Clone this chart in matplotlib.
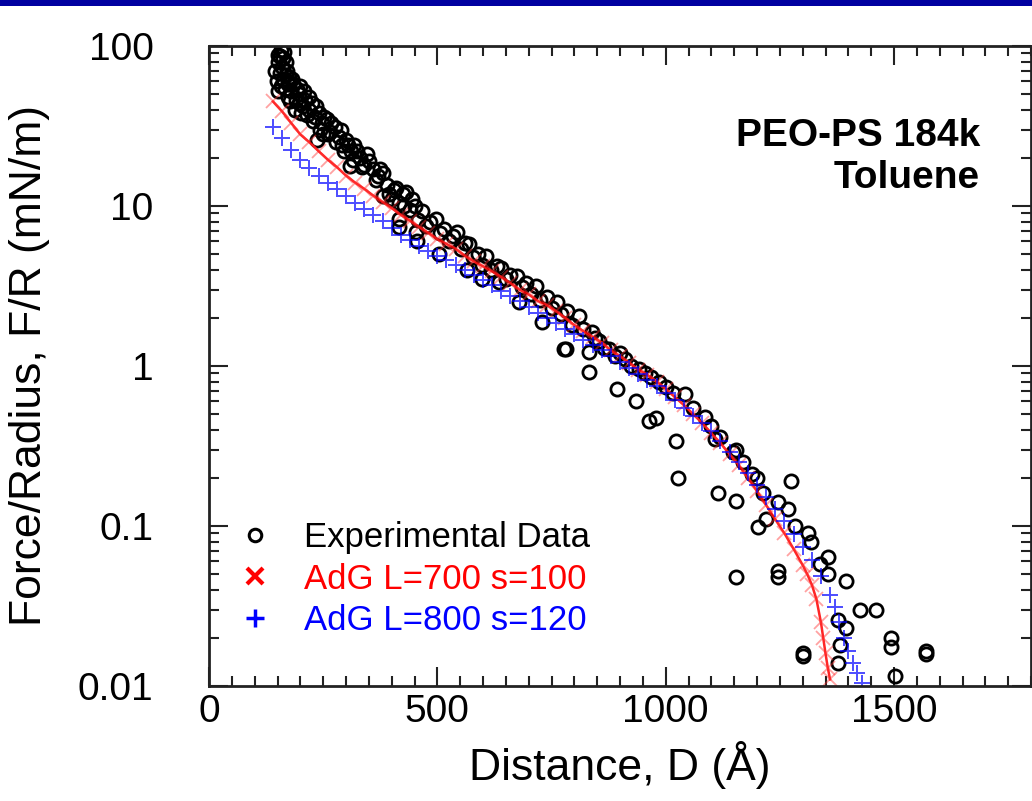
import matplotlib
matplotlib.use("Agg")
import matplotlib.pyplot as plt
from matplotlib.lines import Line2D
from matplotlib.patches import Rectangle
from matplotlib.ticker import FixedLocator, FixedFormatter, LogLocator, MultipleLocator, NullFormatter

plt.rcParams["font.family"] = ["Liberation Sans", "DejaVu Sans"]

# experimental force profile (D in Angstrom, F/R in mN/m)
exp_d = [
    150, 158, 165, 152, 160, 168, 155, 163, 170, 158, 166, 174, 172, 180, 185, 190,
    196, 200, 205, 210, 218, 225, 232, 240, 248, 258, 265, 275, 285, 292, 300, 310,
    318, 330, 340, 345, 360, 370, 380, 390, 395, 405, 415, 424, 432, 440, 450, 458,
    467, 475, 485, 497, 505, 515, 525, 535, 543, 552, 560, 570, 578, 590, 598, 607,
    618, 630, 640, 650, 660, 675, 685, 695, 705, 716, 725, 740, 750, 762, 770, 785,
    795, 810, 820, 838, 845, 854, 865, 875, 890, 900, 912, 925, 941, 955, 967, 985,
    1000, 1015, 1043, 1060, 1087, 1100, 1120, 1148, 1153, 1170, 1188, 1200, 1214, 1220,
    1246, 1268, 1275, 1284, 1312, 1319, 1338, 1356, 1356, 1395, 1377, 1395, 1382, 1377,
    1425, 1460, 1493, 1493, 1502, 1570, 1570,
    236, 250, 308, 380, 417, 417, 456, 454, 504, 565, 598, 635, 679, 729, 777, 781,
    832, 832, 893, 934, 963, 978, 1022, 1028, 1109, 1115, 1155, 1155, 1203, 1246,
    1246, 1301, 1301,
    145, 148, 150, 155, 162, 168, 172, 176, 178, 182, 188, 192, 198, 202, 208, 214,
    220, 228, 235, 244, 252, 260, 268, 278, 288, 296, 305, 315, 325, 335, 350, 365,
    375, 400, 410, 428, 445,
]
exp_f = [
    88, 95, 92, 80, 74, 80, 68, 62, 70, 56, 54, 60, 48, 52, 58, 46,
    50, 56, 42, 46, 40, 44, 36, 38, 33, 35, 29, 31, 27, 24, 26, 22,
    24, 20, 18, 21, 17, 15.5, 16, 13.5, 11.8, 12.6, 10.5, 11.9, 12.2, 9.4, 10, 8.2,
    9.3, 7.5, 8.0, 8.3, 6.8, 7.2, 6.0, 6.5, 6.9, 5.4, 5.9, 5.8, 4.8, 5.0, 4.3, 4.9,
    4.0, 4.2, 4.1, 3.5, 3.7, 3.65, 3.1, 3.3, 2.8, 3.15, 2.6, 2.7, 2.3, 2.5, 2.1, 2.2,
    1.8, 2.05, 1.7, 1.63, 1.5, 1.43, 1.3, 1.28, 1.15, 1.2, 1.1, 1.0, 0.96, 0.9, 0.85, 0.8,
    0.74, 0.68, 0.67, 0.55, 0.48, 0.42, 0.36, 0.29, 0.30, 0.25, 0.21, 0.2, 0.16, 0.11,
    0.141, 0.128, 0.19, 0.1, 0.091, 0.079, 0.058, 0.064, 0.05, 0.045, 0.026, 0.023, 0.018, 0.014,
    0.030, 0.030, 0.02, 0.0175, 0.0115, 0.0165, 0.0158,
    26, 28, 17.8, 11.6, 8.3, 7.4, 6.0, 6.9, 5.0, 4.0, 3.5, 3.35, 2.5, 1.88, 1.28, 1.28,
    1.22, 0.92, 0.72, 0.6, 0.45, 0.47, 0.34, 0.2, 0.35, 0.16, 0.143, 0.048, 0.099, 0.052,
    0.048, 0.016, 0.0153,
    70, 60, 52, 86, 84, 66, 58, 64, 45, 62, 40, 54, 44, 38, 52, 37,
    48, 34, 42, 30, 36, 28, 33, 25, 30, 22, 24, 19.5, 22, 17.5, 19, 14.5,
    17, 11.0, 13, 10, 11,
]

# Alexander-de Gennes fit, L=700 s=100
adg700_d = [
    140, 160, 180, 200, 220, 240, 260, 280, 300, 320, 340, 360, 380, 400, 420, 440,
    460, 480, 500, 520, 540, 560, 580, 600, 620, 640, 660, 680, 700, 720, 740, 760,
    780, 800, 820, 840, 860, 880, 900, 920, 940, 960, 980, 1000, 1020, 1040, 1060, 1080,
    1100, 1120, 1140, 1160, 1180, 1200, 1220, 1240, 1260, 1280, 1300, 1310, 1320, 1330,
    1340, 1345, 1350, 1355, 1360,
]
adg700_f = [
    45, 39, 33, 28, 25, 22, 19.5, 17.5, 15.5, 14, 12.8, 11.6, 10.6, 9.7, 8.8, 8.1,
    7.4, 6.8, 6.2, 5.8, 5.4, 4.9, 4.5, 4.2, 3.9, 3.6, 3.3, 3.0, 2.8, 2.55, 2.4, 2.2,
    2.0, 1.8, 1.65, 1.52, 1.4, 1.25, 1.15, 1.05, 0.95, 0.88, 0.8, 0.72, 0.64, 0.57, 0.5, 0.44,
    0.38, 0.33, 0.28, 0.24, 0.2, 0.165, 0.135, 0.11, 0.09, 0.072, 0.057, 0.05, 0.043, 0.035,
    0.025, 0.02, 0.016, 0.013, 0.011,
]

# Alexander-de Gennes fit, L=800 s=120
adg800_d = [
    140, 160, 180, 200, 220, 240, 260, 280, 300, 320, 340, 360, 380, 400, 420, 440,
    460, 480, 500, 520, 540, 560, 580, 600, 620, 640, 660, 680, 700, 720, 740, 760,
    780, 800, 820, 840, 860, 880, 900, 920, 940, 960, 980, 1000, 1020, 1040, 1060, 1080,
    1100, 1120, 1140, 1160, 1180, 1200, 1220, 1240, 1260, 1280, 1300, 1320, 1340, 1360,
    1370, 1380, 1390, 1400, 1410, 1420, 1430,
]
adg800_f = [
    31, 26.5, 22.5, 19.5, 17.3, 15.5, 14, 12.7, 11.5, 10.5, 9.6, 8.8, 8.1, 7.3, 6.6, 6.1,
    5.6, 5.2, 4.9, 4.6, 4.3, 4.0, 3.7, 3.45, 3.2, 2.95, 2.75, 2.55, 2.35, 2.15, 2.0, 1.85,
    1.7, 1.58, 1.46, 1.35, 1.25, 1.15, 1.06, 0.97, 0.89, 0.82, 0.75, 0.68, 0.61, 0.55, 0.49, 0.44,
    0.39, 0.34, 0.29, 0.25, 0.215, 0.18, 0.152, 0.128, 0.107, 0.089, 0.074, 0.061, 0.049, 0.037,
    0.031, 0.025, 0.02, 0.0165, 0.014, 0.012, 0.0105,
]

y_ticks = [0.01, 0.1, 1, 10, 100]
y_tick_labels = ["0.01", "0.1", "1", "10", "100"]
x_ticks = [0, 500, 1000, 1500]

W, H = 1032, 801
fig = plt.figure(figsize=(W / 100, H / 100), dpi=100)

# dark blue strip along the top edge
fig.patches.append(Rectangle((0, 1 - 6 / H), 1, 6 / H, transform=fig.transFigure,
                             facecolor="#0000a0", edgecolor="none"))

ax = fig.add_axes([209 / W, 1 - 686 / H, (1031 - 209) / W, (686 - 46) / H])

ax.plot(exp_d, exp_f, linestyle="none", marker="o", markersize=9.5,
        markerfacecolor="none", markeredgecolor="black", markeredgewidth=2.0)
ax.plot(adg700_d, adg700_f, color="red", linewidth=1.8, alpha=0.85)
ax.plot(adg700_d, adg700_f, linestyle="none", marker="x", markersize=10,
        color="#ff3030", alpha=0.45, markeredgewidth=1.3)
ax.plot(adg800_d, adg800_f, linestyle="none", marker="+", markersize=12,
        color="#0000ff", alpha=0.7, markeredgewidth=1.4)

ax.set_yscale("log")
ax.set_xlim(0, 1800)
ax.set_ylim(0.01, 100)

ax.xaxis.set_major_locator(FixedLocator(x_ticks))
ax.xaxis.set_minor_locator(MultipleLocator(50))
ax.yaxis.set_major_locator(FixedLocator(y_ticks))
ax.yaxis.set_major_formatter(FixedFormatter(y_tick_labels))
ax.yaxis.set_minor_locator(LogLocator(base=10, subs=range(2, 10)))
ax.yaxis.set_minor_formatter(NullFormatter())

ax.tick_params(which="both", direction="in", top=True, right=True, width=1.5, colors="#222222")
ax.tick_params(which="major", length=14, labelsize=28, labelcolor="black")
ax.tick_params(which="minor", length=7)
ax.tick_params(axis="y", which="major", pad=40)
ax.tick_params(axis="x", which="major", pad=6)
for side in ax.spines.values():
    side.set_linewidth(2)
    side.set_color("#222222")

ax.set_xlabel("Distance, D (Å)", fontsize=32, labelpad=8)
ax.set_ylabel("Force/Radius, F/R (mN/m)", fontsize=32)
ax.yaxis.set_label_coords(-0.193, 0.5)

ax.text(0.938, 0.827, "PEO-PS 184k\nToluene", transform=ax.transAxes, ha="right", va="center",
        fontsize=28, fontweight="bold", linespacing=1.2)

handles = [
    Line2D([], [], linestyle="none", marker="o", markersize=9, markerfacecolor="none",
           markeredgecolor="black", markeredgewidth=2.2),
    Line2D([], [], linestyle="none", marker="x", markersize=12, color="red", markeredgewidth=3),
    Line2D([], [], linestyle="none", marker="+", markersize=13, color="blue", markeredgewidth=2.5),
]
ax.legend(handles, ["Experimental Data", "AdG L=700 s=100", "AdG L=800 s=120"],
          loc="center left", bbox_to_anchor=(0.035, 0.167), frameon=False,
          fontsize=25, labelcolor=["black", "red", "blue"], handlelength=1.0,
          handletextpad=0.9, labelspacing=0.25, borderpad=0, borderaxespad=0)

fig.savefig("out.png", dpi=100)
